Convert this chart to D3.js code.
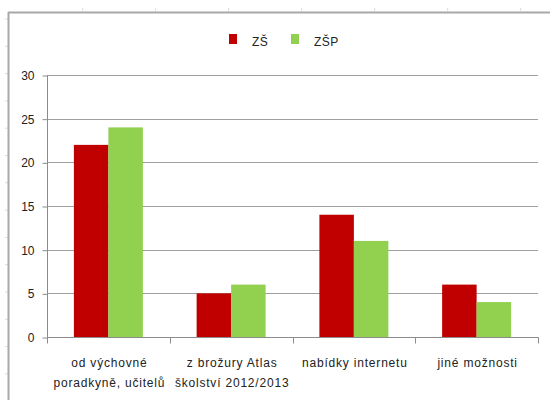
<!DOCTYPE html>
<html>
<head>
<meta charset="utf-8">
<script src="https://cdn.jsdelivr.net/npm/d3@7"></script>
<style>
  html, body { margin: 0; padding: 0; background: #fff; }
  svg { display: block; font-family: "Liberation Sans", Arial, sans-serif; }
</style>
</head>
<body>
<svg id="chart" width="550" height="400"></svg>
<script>
// Categories (two-line labels) and values per series
const categories = [
  ["od výchovné", "poradkyně, učitelů"],
  ["z brožury Atlas", "školství 2012/2013"],
  ["nabídky internetu"],
  ["jiné možnosti"]
];
const seriesNames = ["ZŠ", "ZŠP"];
const seriesColors = ["#C00000", "#92D050"];
const valuesZS = [22, 5, 14, 6];
const valuesZSP = [24, 6, 11, 4];
const yTicks = [0, 5, 10, 15, 20, 25, 30];

const svg = d3.select("#chart");

// Outer frame with faint ruler marks
const frameColor = "#a8a8a8";
const rulerX = d3.range(82.7, 550, 73);
const rulerY = d3.range(19, 400, 27.3);
svg.append("g").selectAll("line").data(rulerX).join("line")
  .attr("x1", d => d).attr("x2", d => d).attr("y1", 8).attr("y2", 11)
  .attr("stroke", "#dcdcdc").attr("stroke-width", 1);
svg.append("g").selectAll("line").data(rulerY).join("line")
  .attr("y1", d => d).attr("y2", d => d).attr("x1", 5).attr("x2", 8)
  .attr("stroke", "#dcdcdc").attr("stroke-width", 1);
svg.append("line").attr("x1", 8).attr("x2", 550).attr("y1", 12.5).attr("y2", 12.5)
  .attr("stroke", frameColor).attr("stroke-width", 2);
svg.append("line").attr("x1", 8.5).attr("x2", 8.5).attr("y1", 12).attr("y2", 400)
  .attr("stroke", frameColor).attr("stroke-width", 2);

// Plot area
const plotL = 47, plotR = 538, plotT = 75, plotB = 337;

const x = d3.scaleBand().domain(d3.range(categories.length)).range([plotL, plotR]).padding(0);
const y = d3.scaleLinear().domain([0, 30]).range([plotB, plotT]);
const barW = x.bandwidth() * 0.281;
const xs = d3.scaleBand().domain(d3.range(seriesNames.length))
  .range([0, barW * 2]);

const gridColor = "#a0a0a0";
const axisColor = "#8c8c8c";

// Horizontal gridlines
svg.append("g").selectAll("line").data(yTicks.filter(t => t > 0)).join("line")
  .attr("x1", plotL).attr("x2", plotR)
  .attr("y1", d => Math.round(y(d)) + 0.5).attr("y2", d => Math.round(y(d)) + 0.5)
  .attr("stroke", gridColor).attr("stroke-width", 1);

// Bars
const series = [valuesZS, valuesZSP];
const groups = svg.append("g").selectAll("g").data(series).join("g")
  .attr("fill", (d, i) => seriesColors[i]);
groups.each(function(vals, si) {
  d3.select(this).selectAll("rect").data(vals).join("rect")
    .attr("x", (v, ci) => x(ci) + (x.bandwidth() - barW * 2) / 2 + xs(si))
    .attr("width", xs.bandwidth())
    .attr("y", v => y(v))
    .attr("height", v => y(0) - y(v));
});

// Y axis
const yAxis = d3.axisLeft(y).tickValues(yTicks).tickSize(5).tickPadding(8);
const gy = svg.append("g").attr("transform", `translate(${plotL + 0.5},0.5)`).call(yAxis);
gy.select(".domain").attr("stroke", axisColor).attr("d", `M0,${plotT - 0.5}V${plotB}`);
gy.selectAll(".tick line").attr("stroke", axisColor);
gy.selectAll(".tick text").attr("fill", "#222").style("font-size", "12px")
  .style("font-family", "'Liberation Sans', Arial, sans-serif");

// X axis: ticks at category boundaries
const gx = svg.append("g").attr("transform", `translate(0,${plotB + 0.5})`);
gx.append("line").attr("x1", plotL).attr("x2", plotR + 0.5).attr("y1", 0).attr("y2", 0)
  .attr("stroke", axisColor);
const bounds = d3.range(categories.length + 1).map(i => i < categories.length ? x(i) : plotR);
gx.selectAll("line.tk").data(bounds).join("line").attr("class", "tk")
  .attr("x1", d => Math.round(d) + 0.5).attr("x2", d => Math.round(d) + 0.5)
  .attr("y1", 0).attr("y2", 6).attr("stroke", axisColor);

// Category labels
const labels = svg.append("g").selectAll("text").data(categories).join("text")
  .attr("text-anchor", "middle")
  .attr("fill", "#222")
  .style("font-size", "12px")
  .style("letter-spacing", "0.8px");
labels.each(function(lines, i) {
  const t = d3.select(this);
  lines.forEach((ln, k) => {
    t.append("tspan").attr("x", x(i) + x.bandwidth() / 2 + 1)
      .attr("y", 366.5 + k * 20.5).text(ln);
  });
});

// Legend
const legendItems = [
  { name: seriesNames[0], color: seriesColors[0], sx: 229, tx: 252 },
  { name: seriesNames[1], color: seriesColors[1], sx: 291, tx: 314 }
];
const lg = svg.append("g").selectAll("g").data(legendItems).join("g");
lg.append("rect").attr("x", d => d.sx).attr("y", 34).attr("width", 8).attr("height", 10)
  .attr("fill", d => d.color);
lg.append("text").attr("x", d => d.tx).attr("y", 46).attr("fill", "#222")
  .style("font-size", "12px").style("letter-spacing", "0.4px").text(d => d.name);
</script>
</body>
</html>
